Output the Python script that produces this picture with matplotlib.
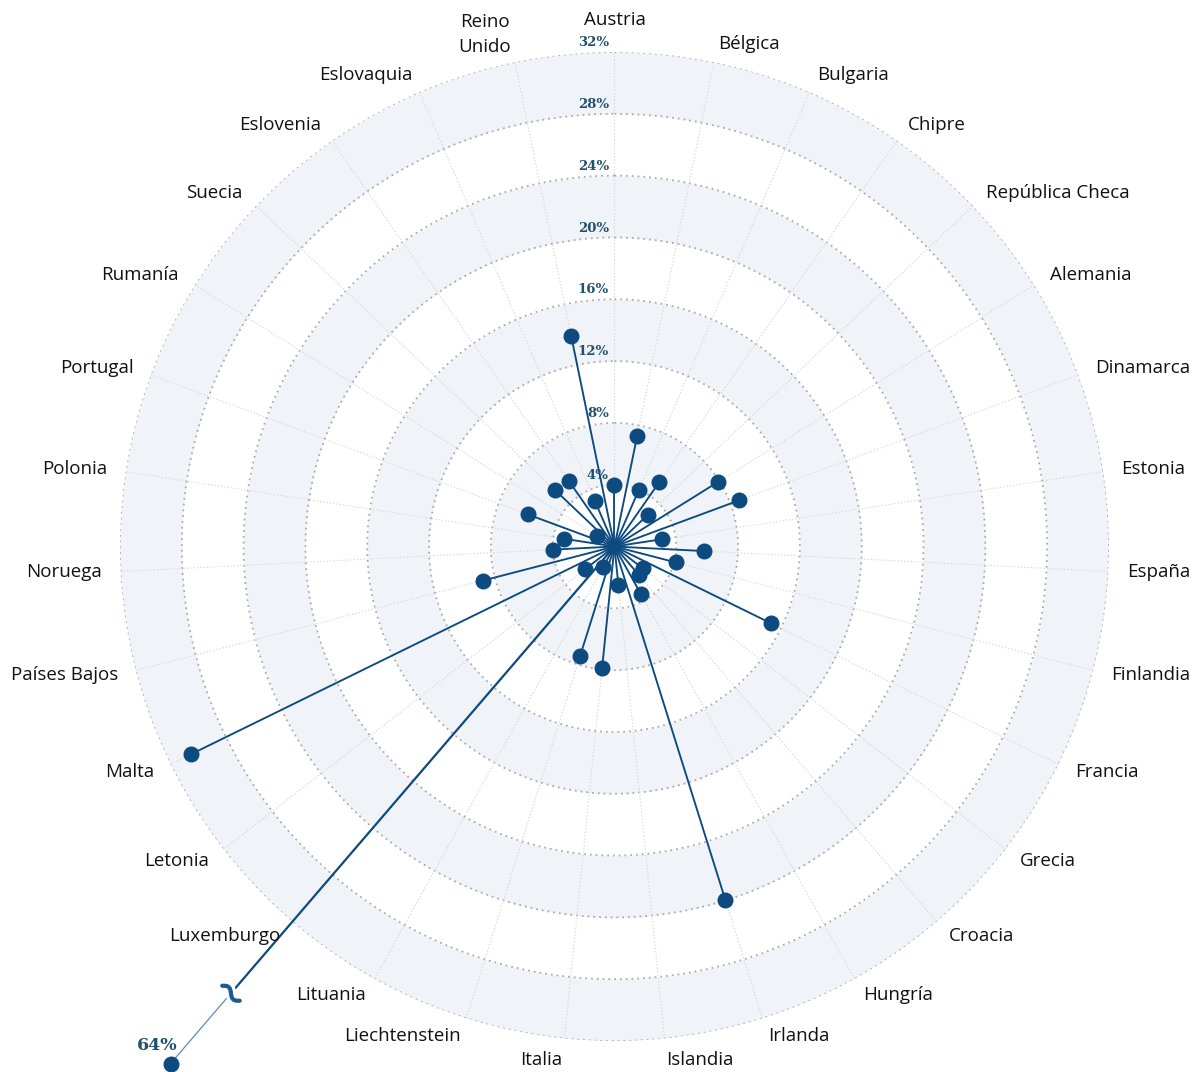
import numpy as np
import matplotlib
matplotlib.use("Agg")
import matplotlib.pyplot as plt
from matplotlib.transforms import IdentityTransform

countries = ["Austria", "Bélgica", "Bulgaria", "Chipre", "República Checa", "Alemania",
             "Dinamarca", "Estonia", "España", "Finlandia", "Francia", "Grecia", "Croacia",
             "Hungría", "Irlanda", "Islandia", "Italia", "Liechtenstein", "Lituania",
             "Luxemburgo", "Letonia", "Malta", "Países Bajos", "Noruega", "Polonia",
             "Portugal", "Rumanía", "Suecia", "Eslovenia", "Eslovaquia", "Reino\nUnido"]
values = [4.0, 7.3, 4.0, 5.1, 3.0, 7.9,
          8.6, 3.1, 5.8, 4.1, 11.3, 2.3, 2.4,
          3.5, 24.0, 2.5, 7.9, 7.4, 1.5,
          64.0, 2.4, 30.5, 8.8, 4.0, 3.3,
          6.0, 1.3, 5.3, 5.2, 3.2, 13.9]
tick_values = [4, 8, 12, 16, 20, 24, 28, 32]
tick_labels = ["4%", "8%", "12%", "16%", "20%", "24%", "28%", "32%"]

RMAX = 32
def shown(v):
    # broken axis beyond the outer ring
    return v if v <= RMAX else RMAX + (v - RMAX) * 0.378

BLUE = "#0d4a80"
TICKC = "#24506f"
BAND = "#f0f3f7"

fig = plt.figure(figsize=(12.02, 10.72), dpi=100)
ax = fig.add_axes([0.0998, 0.0289, 0.8228, 0.9226], projection="polar")
ax.set_theta_zero_location("N")
ax.set_theta_direction(-1)
ax.set_ylim(0, RMAX)
ax.grid(False)
ax.spines["polar"].set_visible(False)
ax.set_xticks([])
ax.set_yticks([])
ax.patch.set_alpha(0)

n = len(countries)
thetas = np.arange(n) * 2 * np.pi / n
circ = np.linspace(0, 2 * np.pi, 720)

# shaded bands
for lo in [4, 12, 20, 28]:
    ax.fill_between(circ, lo, lo + 4, color=BAND, lw=0, zorder=0)
# circles
for r in tick_values:
    ax.plot(circ, np.full_like(circ, r), color="#ababab", lw=1.3,
            ls=(0, (1, 2.2)), zorder=1)
# spokes
for t in thetas:
    ax.plot([t, t], [0, RMAX], color="#d6d6d6", lw=0.8, ls=(0, (1.2, 1.8)), zorder=1)

# lollipops
for t, v, c in zip(thetas, values, countries):
    if v <= RMAX:
        ax.plot([t, t], [0, v], color=BLUE, lw=1.35, zorder=3, solid_capstyle="round")
        ax.plot([t], [v], "o", color=BLUE, ms=10.5, zorder=4)
    else:
        brk = 38.1
        ax.plot([t, t], [0, brk], color=BLUE, lw=1.6, zorder=3, clip_on=False)
        ax.plot([t, t], [brk, shown(v)], color="#5a8cba", lw=0.9, zorder=3, clip_on=False)
        ax.plot([t], [shown(v)], "o", color=BLUE, ms=10.5, zorder=4, clip_on=False)
        # break squiggle in display coordinates
        fig.canvas.draw()
        p0 = ax.transData.transform((t, 0))
        pb = ax.transData.transform((t, brk))
        d = (pb - p0) / np.linalg.norm(pb - p0)
        perp = np.array([-d[1], d[0]])
        s = np.linspace(-1, 1, 80)
        pts = pb[None, :] + (s * 11.5)[:, None] * perp[None, :] + \
              (np.sin(np.pi * s) * 3.2)[:, None] * d[None, :]
        ax.plot(pts[:, 0], pts[:, 1], color="white", lw=7.5, transform=IdentityTransform(),
                zorder=5, clip_on=False, solid_capstyle="round")
        ax.plot(pts[:, 0], pts[:, 1], color="#1d5a8e", lw=3.0, transform=IdentityTransform(),
                zorder=6, clip_on=False, solid_capstyle="round")
        ax.annotate(f"{v:.0f}%", xy=(t, shown(v)), xytext=(-10, 13),
                    textcoords="offset points", ha="center", va="center",
                    fontsize=12.5, fontweight="bold", family="DejaVu Serif",
                    color=TICKC, annotation_clip=False, zorder=6)

# radial tick labels
for r, lab in zip(tick_values, tick_labels):
    ax.annotate(lab, xy=(0, r), xytext=(-4, 2), textcoords="offset points",
                ha="right", va="bottom", fontsize=9.5, fontweight="bold",
                family="DejaVu Serif", color=TICKC, zorder=6)

# country labels
LR = 33.2
for t, c in zip(thetas, countries):
    deg = np.degrees(t)
    off = (0, 0)
    if deg < 1:
        ha, va = "center", "bottom"
        off = (0, 3)
    elif deg < 180:
        ha, va = "left", "center"
    else:
        ha, va = "right", "center"
    if 165 < deg < 195:
        off = (0, -2.5)
    if "\n" in c:
        off = (0, 7)
    ax.annotate(c, xy=(t, LR), xytext=off, textcoords="offset points",
                ha=ha, va=va, fontsize=13.5, family="Open Sans", color="#111111",
                multialignment="center", annotation_clip=False, linespacing=1.5)

fig.savefig("out.png", dpi=100)
